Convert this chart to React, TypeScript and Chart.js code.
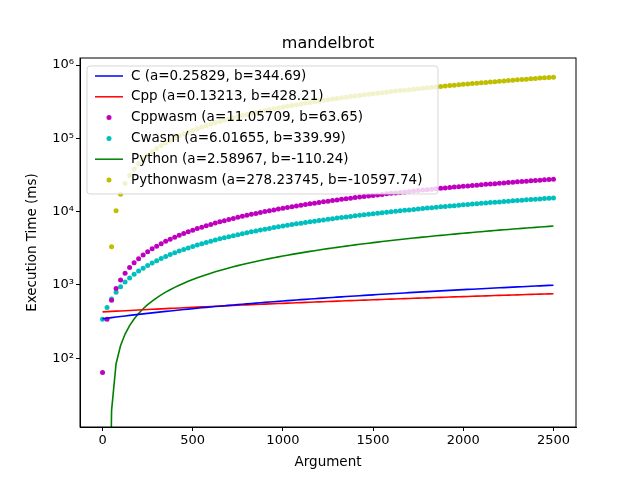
import React, { useEffect, useRef } from "react";
import { Chart, registerables } from "chart.js";
Chart.register(...registerables);

const X_STEP = [0,25,50,75,100,125,150,175,200,225,250,275,300,325,350,375,400,425,450,475,500,525,550,575,600,625,650,675,700,725,750,775,800,825,850,875,900,925,950,975,1000,1025,1050,1075,1100,1125,1150,1175,1200,1225,1250,1275,1300,1325,1350,1375,1400,1425,1450,1475,1500,1525,1550,1575,1600,1625,1650,1675,1700,1725,1750,1775,1800,1825,1850,1875,1900,1925,1950,1975,2000,2025,2050,2075,2100,2125,2150,2175,2200,2225,2250,2275,2300,2325,2350,2375,2400,2425,2450,2475,2500];
const CPPWASM = [64,340,616,893,1169,1446,1722,1999,2275,2551,2828,3104,3381,3657,3934,4210,4486,4763,5039,5316,5592,5869,6145,6421,6698,6974,7251,7527,7804,8080,8356,8633,8909,9186,9462,9739,10015,10291,10568,10844,11121,11397,11674,11950,12226,12503,12779,13056,13332,13609,13885,14161,14438,14714,14991,15267,15544,15820,16096,16373,16649,16926,17202,17479,17755,18031,18308,18584,18861,19137,19414,19690,19966,20243,20519,20796,21072,21349,21625,21901,22178,22454,22731,23007,23284,23560,23836,24113,24389,24666,24942,25219,25495,25771,26048,26324,26601,26877,27154,27430,27706];
const CWASM = [340,490,641,791,942,1092,1242,1393,1543,1694,1844,1995,2145,2295,2446,2596,2747,2897,3047,3198,3348,3499,3649,3799,3950,4100,4251,4401,4552,4702,4852,5003,5153,5304,5454,5604,5755,5905,6056,6206,6357,6507,6657,6808,6958,7109,7259,7409,7560,7710,7861,8011,8161,8312,8462,8613,8763,8914,9064,9214,9365,9515,9666,9816,9966,10117,10267,10418,10568,10718,10869,11019,11170,11320,11471,11621,11771,11922,12072,12223,12373,12523,12674,12824,12975,13125,13275,13426,13576,13727,13877,14028,14178,14328,14479,14629,14780,14930,15080,15231,15381];
const PYWASM = [null,null,3314,10270,17226,24182,31138,38094,45050,52006,58962,65918,72874,79830,86786,93742,100697,107653,114609,121565,128521,135477,142433,149389,156345,163301,170257,177213,184169,191124,198080,205036,211992,218948,225904,232860,239816,246772,253728,260684,267640,274596,281551,288507,295463,302419,309375,316331,323287,330243,337199,344155,351111,358067,365023,371978,378934,385890,392846,399802,406758,413714,420670,427626,434582,441538,448494,455450,462405,469361,476317,483273,490229,497185,504141,511097,518053,525009,531965,538921,545877,552832,559788,566744,573700,580656,587612,594568,601524,608480,615436,622392,629348,636304,643259,650215,657171,664127,671083,678039,684995];
const FIT_A = { C: 0.25829, Cpp: 0.13213, Python: 2.58967 };
const FIT_B = { C: 344.69, Cpp: 428.21, Python: -110.24 };
const LABELS = [
  "C (a=0.25829, b=344.69)",
  "Cpp (a=0.13213, b=428.21)",
  "Cppwasm (a=11.05709, b=63.65)",
  "Cwasm (a=6.01655, b=339.99)",
  "Python (a=2.58967, b=-110.24)",
  "Pythonwasm (a=278.23745, b=-10597.74)",
];
const COLORS = ["#0000ff", "#ff0000", "#bf00bf", "#00bfbf", "#008000", "#bfbf00"];
const Y_TICKS = [100, 1000, 10000, 100000, 1000000];
const Y_TICK_LABELS = ["10²", "10³", "10⁴", "10⁵", "10⁶"];
const X_TICKS = [0, 500, 1000, 1500, 2000, 2500];

const FONT = "DejaVu Sans";

function fitLine(k: "C" | "Cpp" | "Python") {
  return X_STEP.map((x) => {
    const v = FIT_A[k] * x + FIT_B[k];
    return { x, y: v > 0 ? v : 1e-3 };
  });
}
const pts = (arr: (number | null)[]) =>
  X_STEP.map((x, i) => ({ x, y: arr[i] })).filter((p) => p.y !== null);

export default function App() {
  const ref = useRef<HTMLCanvasElement>(null);
  useEffect(() => {
    const frame = {
      id: "frame",
      afterDraw(c: any) {
        const { ctx, chartArea: a } = c;
        ctx.save();
        ctx.strokeStyle = "#000";
        ctx.lineWidth = 1;
        ctx.strokeRect(a.left, a.top, a.right - a.left, a.bottom - a.top);
        ctx.fillStyle = "#000";
        ctx.font = `16px ${FONT}`;
        ctx.textAlign = "center";
        ctx.textBaseline = "bottom";
        ctx.fillText("mandelbrot", (a.left + a.right) / 2, a.top - 6);
        ctx.font = `13.5px ${FONT}`;
        ctx.textBaseline = "middle";
        ctx.fillText("Argument", (a.left + a.right) / 2, 462);
        ctx.save();
        ctx.translate(32, (a.top + a.bottom) / 2);
        ctx.rotate(-Math.PI / 2);
        ctx.fillText("Execution Time (ms)", 0, 0);
        ctx.restore();
        // legend
        const lx = 87, ly = 66, lw = 351, lh = 128;
        ctx.fillStyle = "rgba(255,255,255,0.8)";
        ctx.strokeStyle = "rgba(204,204,204,0.8)";
        ctx.beginPath();
        (ctx as any).roundRect(lx, ly, lw, lh, 3);
        ctx.fill();
        ctx.stroke();
        ctx.font = `13.5px ${FONT}`;
        ctx.textAlign = "left";
        ctx.textBaseline = "middle";
        LABELS.forEach((t, i) => {
          const y = ly + 10 + i * 20.8;
          ctx.strokeStyle = COLORS[i];
          ctx.fillStyle = COLORS[i];
          if (i < 2 || i === 4) {
            ctx.lineWidth = 1.5;
            ctx.beginPath();
            ctx.moveTo(95, y);
            ctx.lineTo(123, y);
            ctx.stroke();
          } else {
            ctx.beginPath();
            ctx.arc(109, y, 2.5, 0, Math.PI * 2);
            ctx.fill();
          }
          ctx.fillStyle = "#000";
          ctx.fillText(t, 131, y);
        });
        ctx.restore();
      },
    };
    const lineDs = (k: "C" | "Cpp" | "Python", i: number) => ({
      type: "line" as const,
      label: LABELS[i],
      data: fitLine(k),
      borderColor: COLORS[i],
      borderWidth: 1.6,
      pointRadius: 0,
      showLine: true,
    });
    const dotDs = (arr: (number | null)[], i: number) => ({
      type: "scatter" as const,
      label: LABELS[i],
      data: pts(arr),
      backgroundColor: COLORS[i],
      borderWidth: 0,
      pointRadius: 2.5,
    });
    const chart = new Chart(ref.current!, {
      type: "scatter",
      data: {
        datasets: [
          lineDs("C", 0),
          lineDs("Cpp", 1),
          dotDs(CPPWASM, 2),
          dotDs(CWASM, 3),
          lineDs("Python", 4),
          dotDs(PYWASM, 5),
        ] as any,
      },
      options: {
        animation: false,
        responsive: false,
        layout: { padding: { left: 0, right: 64, top: 58, bottom: 0 } },
        plugins: { legend: { display: false }, tooltip: { enabled: false } },
        scales: {
          x: {
            type: "linear",
            min: -125,
            max: 2625,
            afterBuildTicks: (s: any) => { s.ticks = X_TICKS.map((v) => ({ value: v })); },
            afterFit: (s: any) => { s.height = 53; },
            grid: { drawOnChartArea: false, tickLength: 4, color: "#000" },
            border: { color: "#000" },
            ticks: { color: "#000", font: { family: FONT, size: 13 }, padding: 2, maxRotation: 0, callback: (v: any) => String(v) },
          },
          y: {
            type: "logarithmic",
            min: 11.5,
            max: 1250000,
            afterBuildTicks: (s: any) => { s.ticks = Y_TICKS.map((v) => ({ value: v })); },
            afterFit: (s: any) => { s.width = 80; },
            grid: { drawOnChartArea: false, tickLength: 4, color: "#000" },
            border: { color: "#000" },
            ticks: {
              color: "#000",
              font: { family: FONT, size: 13 },
              padding: 2,
              callback: (v: any) => {
                const i = Y_TICKS.indexOf(Number(v));
                return i >= 0 ? Y_TICK_LABELS[i] : "";
              },
            },
          },
        },
      },
      plugins: [frame],
    });
    return () => chart.destroy();
  }, []);
  return (
    <canvas
      ref={ref}
      width={640}
      height={480}
      style={{ position: "absolute", left: 0, top: 0, width: 640, height: 480 }}
    />
  );
}
